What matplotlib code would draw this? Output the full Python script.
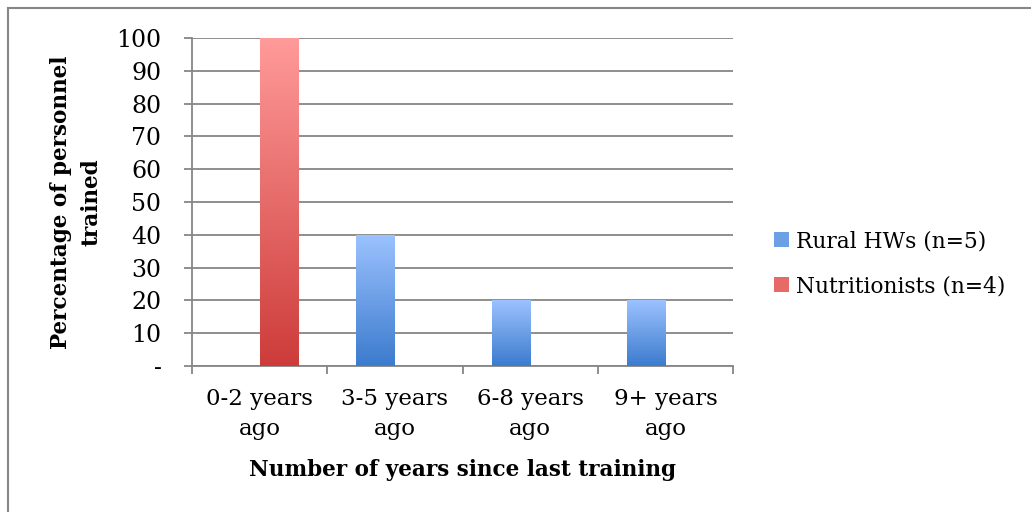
import numpy as np
import matplotlib.pyplot as plt
from matplotlib.colors import LinearSegmentedColormap
from matplotlib.patches import Patch
from matplotlib.lines import Line2D

categories = ['0-2 years\nago', '3-5 years\nago', '6-8 years\nago', '9+ years\nago']
rural = [0, 40, 20, 20]
nutritionists = [100, 0, 0, 0]
yticks = [0, 10, 20, 30, 40, 50, 60, 70, 80, 90, 100]
ytick_labels = ['-'] + [str(v) for v in yticks[1:]]

plt.rcParams['font.family'] = ['DejaVu Serif']
grey = '#868686'

blue_cmap = LinearSegmentedColormap.from_list('blue', ['#3c7bcd', '#9cc2ff'])
red_cmap = LinearSegmentedColormap.from_list('red', ['#cd3c3a', '#ff9b9a'])

fig = plt.figure(figsize=(10.31, 5.12), dpi=100)
ax = fig.add_axes([0.1862, 0.285, 0.5248, 0.6408])

x = np.arange(len(categories))
w = 0.285
bars_r = ax.bar(x - w / 2, rural, w, color='none', label='Rural HWs (n=5)')
bars_n = ax.bar(x + w / 2, nutritionists, w, color='none', label='Nutritionists (n=4)')

# vertical gradient inside each bar, light at the top
grad = np.linspace(0, 1, 256).reshape(-1, 1)
for bars, cmap in [(bars_r, blue_cmap), (bars_n, red_cmap)]:
    for b in bars:
        h = b.get_height()
        if h <= 0:
            continue
        x0 = b.get_x()
        im = ax.imshow(grad, cmap=cmap, origin='lower', aspect='auto',
                       extent=[x0, x0 + b.get_width(), 0, h], zorder=3)
        im.set_clip_path(b)

ax.set_xlim(-0.5, len(categories) - 0.5)
ax.set_ylim(0, 100)
ax.set_yticks(yticks)
ax.set_yticklabels(ytick_labels, fontsize=17)
ax.yaxis.grid(True, color=grey, linewidth=1.3)
ax.set_axisbelow(True)

ax.set_xticks(x)
ax.set_xticklabels(categories, fontsize=16.5, linespacing=1.45)
ax.set_xticks(np.arange(-0.5, len(categories)), minor=True)
ax.tick_params(axis='x', which='major', length=0, pad=16)
ax.tick_params(axis='x', which='minor', length=6, color=grey, width=1.3)
ax.tick_params(axis='y', length=6, color=grey, width=1.3, pad=16)

for side in ['top', 'right']:
    ax.spines[side].set_visible(False)
for side in ['left', 'bottom']:
    ax.spines[side].set_color(grey)
    ax.spines[side].set_linewidth(1.3)

ax.set_ylabel('Percentage of personnel\ntrained', fontsize=15.5, fontweight='bold',
              linespacing=1.5, labelpad=10)
ax.set_xlabel('Number of years since last training', fontsize=15.5,
              fontweight='bold', labelpad=14)

handles = [Patch(facecolor='#6b9fe6', edgecolor='none'),
           Patch(facecolor='#e66a68', edgecolor='none')]
fig.legend(handles, ['Rural HWs (n=5)', 'Nutritionists (n=4)'],
           loc='center left', bbox_to_anchor=(0.740, 0.485), frameon=False,
           fontsize=15.7, handlelength=0.7, handleheight=0.7,
           handletextpad=0.3, labelspacing=1.05, borderpad=0)

# frame around the chart area
fig.add_artist(Line2D([0.0078, 1.0], [0.984, 0.984], color=grey, linewidth=1.5))
fig.add_artist(Line2D([0.0078, 0.0078], [0.0, 0.984], color=grey, linewidth=1.5))

fig.savefig('out.png', dpi=100)
